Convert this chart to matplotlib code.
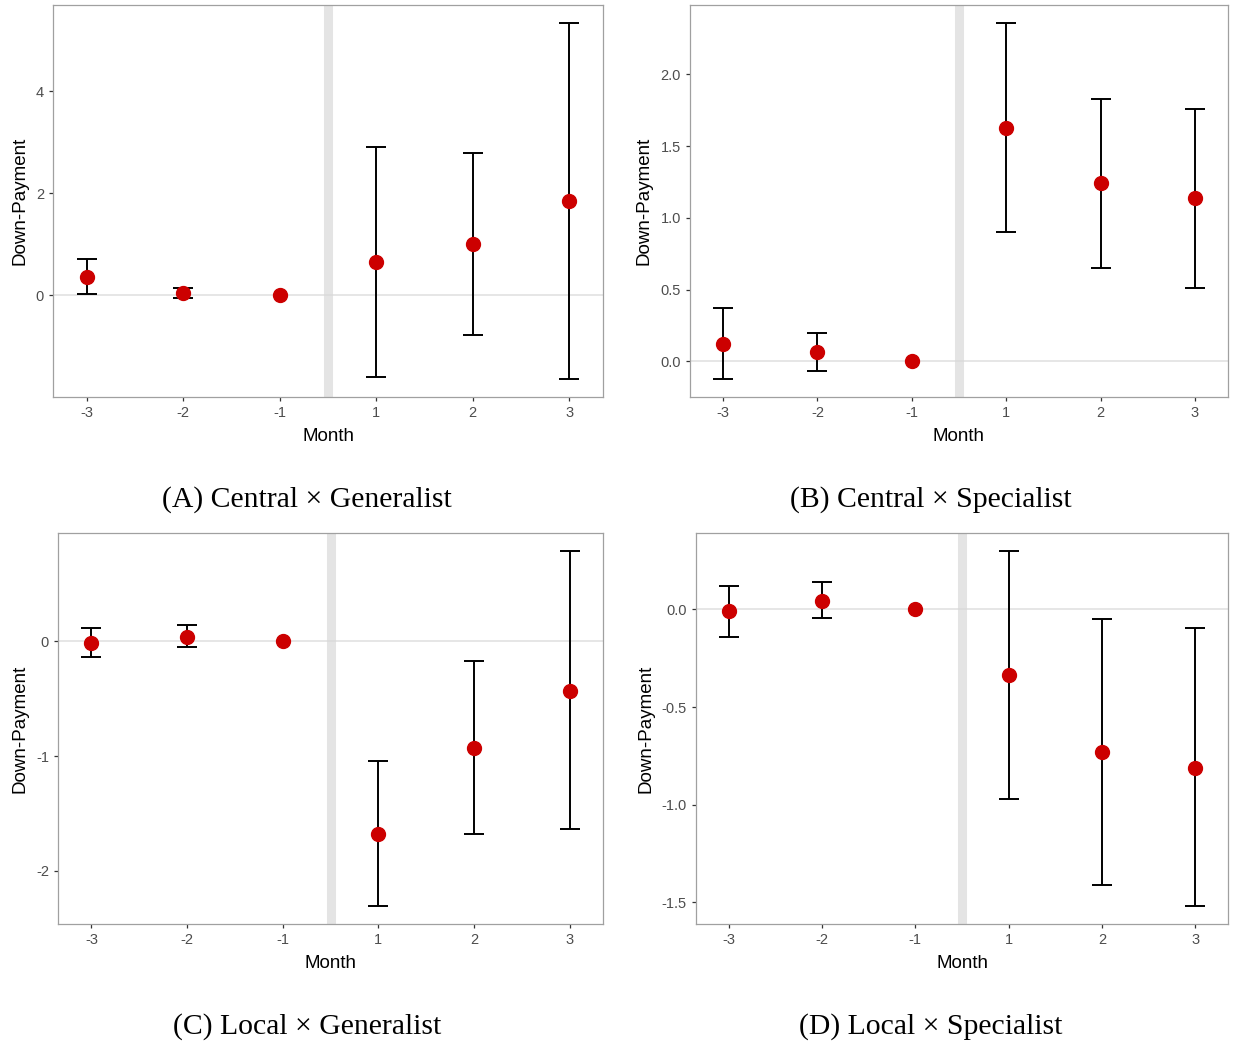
import matplotlib
matplotlib.use('Agg')
import matplotlib.pyplot as plt

# ── data (event-study estimates) ──────────────────────────────────────────────
months = ['-3', '-2', '-1', '1', '2', '3']

a_est = [0.37, 0.05, 0.0, 0.66, 1.01, 1.85]
a_lo  = [0.03, -0.05, 0.0, -1.60, -0.78, -1.64]
a_hi  = [0.72, 0.15, 0.0, 2.90, 2.79, 5.34]

b_est = [0.12, 0.065, 0.0, 1.63, 1.24, 1.14]
b_lo  = [-0.125, -0.07, 0.0, 0.90, 0.65, 0.51]
b_hi  = [0.37, 0.195, 0.0, 2.36, 1.83, 1.76]

c_est = [-0.01, 0.04, 0.0, -1.68, -0.93, -0.43]
c_lo  = [-0.14, -0.05, 0.0, -2.31, -1.68, -1.64]
c_hi  = [0.12, 0.14, 0.0, -1.04, -0.17, 0.79]

d_est = [-0.01, 0.045, 0.0, -0.335, -0.73, -0.81]
d_lo  = [-0.14, -0.045, 0.0, -0.97, -1.41, -1.52]
d_hi  = [0.12, 0.14, 0.0, 0.30, -0.05, -0.095]

a_ticks = [0, 2, 4]
b_ticks = [0.0, 0.5, 1.0, 1.5, 2.0]
c_ticks = [-2, -1, 0]
d_ticks = [-1.5, -1.0, -0.5, 0.0]

captions = ['(A) Central \u00d7 Generalist', '(B) Central \u00d7 Specialist',
            '(C) Local \u00d7 Generalist', '(D) Local \u00d7 Specialist']

# ── layout (pixel boxes: left, right, top, bottom) ───────────────────────────
W, H = 1233, 1043
boxes = [(53, 603, 5, 397), (690, 1228, 5, 397),
         (58, 603, 533, 924), (696, 1228, 533, 924)]
cap_pos = [(307, 500), (931, 500), (307, 1027), (931, 1027)]

panels = [
    (a_est, a_lo, a_hi, a_ticks, '%d'),
    (b_est, b_lo, b_hi, b_ticks, '%.1f'),
    (c_est, c_lo, c_hi, c_ticks, '%d'),
    (d_est, d_lo, d_hi, d_ticks, '%.1f'),
]

plt.rcParams['font.family'] = ['Liberation Sans', 'DejaVu Sans']

fig = plt.figure(figsize=(W / 100, H / 100), dpi=100)

for (est, lo, hi, ticks, fmt), (l, r, t, b), cap, (cx, cy) in zip(
        panels, boxes, captions, cap_pos):
    ax = fig.add_axes([l / W, 1 - b / H, (r - l) / W, (b - t) / H])
    x = list(range(len(months)))

    ax.axhline(0, color='#e6e6e6', lw=1.4, zorder=1)
    ax.axvline(2.5, color='#d9d9d9', lw=6.5, alpha=0.7, zorder=1)

    # reference month (-1) is normalised to zero: no interval drawn
    keep = [i for i in x if hi[i] > lo[i]]
    ex = [x[i] for i in keep]
    ey = [est[i] for i in keep]
    yerr = [[est[i] - lo[i] for i in keep], [hi[i] - est[i] for i in keep]]
    ax.errorbar(ex, ey, yerr=yerr, fmt='none', ecolor='black', elinewidth=1.4,
                capsize=7.5, capthick=1.4, zorder=2)
    ax.plot(x, est, 'o', color='#cc0000', markersize=10, zorder=3)

    ymin, ymax = min(lo), max(hi)
    pad = 0.05 * (ymax - ymin)
    ax.set_ylim(ymin - pad, ymax + pad)
    ax.set_xlim(-0.35, len(months) - 0.65)

    ax.set_xticks(x)
    ax.set_xticklabels(months)
    ax.set_yticks(ticks)
    ax.set_yticklabels([fmt % v for v in ticks])
    ax.tick_params(length=3, width=0.9, color='#333333', labelcolor='#4d4d4d',
                   labelsize=10.5, pad=3.5)
    for sp in ax.spines.values():
        sp.set_color('#a0a0a0')
        sp.set_linewidth(0.9)

    ax.set_xlabel('Month', fontsize=13.5, labelpad=6)
    ax.set_ylabel('Down-Payment', fontsize=13.5, labelpad=5.5)

    fig.text(cx / W, 1 - cy / H, cap, ha='center', va='center',
             fontsize=21.4, family=['Liberation Serif', 'DejaVu Serif'])

fig.savefig('out.png', dpi=100)
